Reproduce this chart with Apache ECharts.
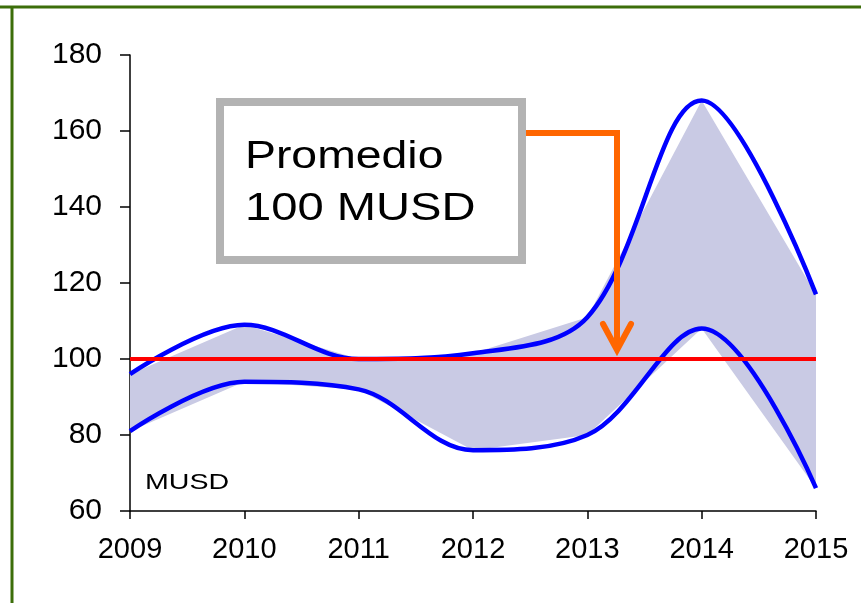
<!DOCTYPE html>
<html>
<head>
<meta charset="utf-8">
<script src="https://cdn.jsdelivr.net/npm/echarts@6/dist/echarts.min.js"></script>
<style>
  html, body { margin: 0; padding: 0; background: #fff; }
  #main { width: 861px; height: 603px; }
</style>
</head>
<body>
<div id="main"></div>
<script>
// datos (MUSD)
var years = ['2009', '2010', '2011', '2012', '2013', '2014', '2015'];
var upper = [96, 109, 100, 101.5, 111, 168, 117];
var lower = [81, 94, 92, 76, 80, 108, 66];
var promedio = 100;
var yTicks = [60, 180, 20]; // min, max, intervalo

var chart = echarts.init(document.getElementById('main'));

var bandDiff = upper.map(function (v, i) { return v - lower[i]; });
var avgLine = years.map(function () { return promedio; });

var font = '"Liberation Sans", Arial, sans-serif';

var option = {
  backgroundColor: '#fff',
  animation: false,
  grid: { left: 130, right: 45, top: 55, bottom: 92, containLabel: false },
  xAxis: {
    type: 'category',
    data: years,
    boundaryGap: false,
    axisLine: { lineStyle: { color: '#000', width: 1.5 } },
    axisTick: { show: true, length: 8, lineStyle: { color: '#000', width: 1.5 } },
    axisLabel: { color: '#000', fontSize: 29, fontFamily: font, margin: 24 },
    splitLine: { show: false }
  },
  yAxis: {
    type: 'value',
    min: yTicks[0],
    max: yTicks[1],
    interval: yTicks[2],
    axisLine: { show: true, lineStyle: { color: '#000', width: 1.5 } },
    axisTick: { show: true, length: 10, lineStyle: { color: '#000', width: 1.5 } },
    axisLabel: { color: '#000', fontSize: 30, fontFamily: font, margin: 28 },
    splitLine: { show: false }
  },
  series: [
    {
      name: 'base',
      type: 'line',
      stack: 'band',
      data: lower,
      symbol: 'none',
      lineStyle: { opacity: 0 },
      silent: true
    },
    {
      name: 'banda',
      type: 'line',
      stack: 'band',
      data: bandDiff,
      symbol: 'none',
      lineStyle: { opacity: 0 },
      areaStyle: { color: '#c9cae4', opacity: 1 },
      silent: true
    },
    {
      name: 'max',
      type: 'line',
      data: upper,
      smooth: 0.35,
      symbol: 'none',
      lineStyle: { color: '#0000ff', width: 4.5 }
    },
    {
      name: 'min',
      type: 'line',
      data: lower,
      smooth: 0.35,
      symbol: 'none',
      lineStyle: { color: '#0000ff', width: 4.5 }
    },
    {
      name: 'promedio',
      type: 'line',
      data: avgLine,
      symbol: 'none',
      lineStyle: { color: '#ff0000', width: 4 }
    }
  ],
  graphic: [
    // marco verde
    { type: 'line', shape: { x1: 0, y1: 7, x2: 861, y2: 7 }, style: { stroke: '#3c6e0a', lineWidth: 3 } },
    { type: 'line', shape: { x1: 12, y1: 7, x2: 12, y2: 603 }, style: { stroke: '#3c6e0a', lineWidth: 3 } },
    // etiqueta de unidades
    {
      type: 'text', x: 145, y: 483, scaleX: 1.3,
      style: { text: 'MUSD', fontSize: 22, fontFamily: font, fill: '#000', verticalAlign: 'middle' }
    },
    // flecha naranja
    {
      type: 'polyline', z: 100,
      shape: { points: [[526, 133], [617, 133], [617, 348]] },
      style: { stroke: '#ff6600', lineWidth: 6, fill: null }
    },
    {
      type: 'polyline', z: 100,
      shape: { points: [[603, 324], [617, 350], [631, 324]] },
      style: { stroke: '#ff6600', lineWidth: 6, fill: null, lineCap: 'round', lineJoin: 'miter' }
    },
    // cuadro de texto
    {
      type: 'rect', z: 100,
      shape: { x: 220, y: 102, width: 302, height: 158 },
      style: { fill: '#fff', stroke: '#b3b3b3', lineWidth: 8 }
    },
    {
      type: 'text', z: 101, x: 245, y: 158, scaleX: 1.22,
      style: { text: 'Promedio', fontSize: 38, fontFamily: font, fill: '#000', verticalAlign: 'middle' }
    },
    {
      type: 'text', z: 101, x: 245, y: 210, scaleX: 1.24,
      style: { text: '100 MUSD', fontSize: 38, fontFamily: font, fill: '#000', verticalAlign: 'middle' }
    }
  ]
};

chart.setOption(option);
</script>
</body>
</html>
